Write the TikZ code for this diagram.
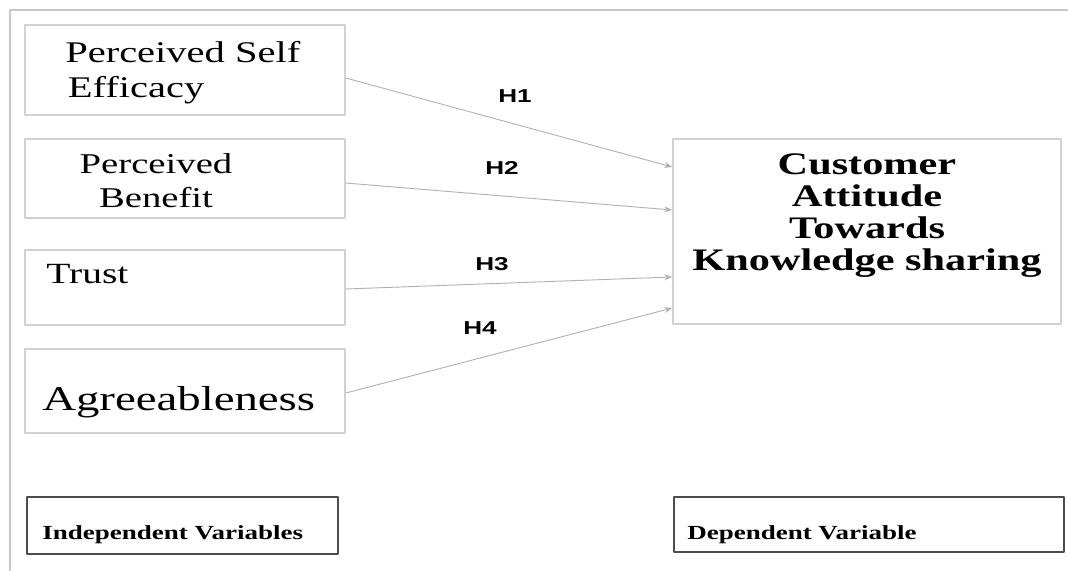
\documentclass[tikz,border=0pt]{standalone}
\usepackage{fontspec}
\setmainfont{Liberation Serif}[FakeStretch=1.35]
\newfontfamily\hfont{Liberation Sans}[FakeStretch=1.4]
\usetikzlibrary{calc,arrows.meta}
\begin{document}
\begin{tikzpicture}[x=0.75pt,y=-0.75pt,line join=round,
    varbox/.style={draw=black!18,line width=1.1pt,inner sep=0pt},
    keybox/.style={draw=black!70,line width=1pt,inner sep=0pt},
    vartxt/.style={inner sep=0pt,anchor=base west},
    hyp/.style={->,>={Stealth[length=6pt,width=4.5pt]},draw=black!30,line width=0.7pt},
    hlab/.style={font=\hfont\fontsize{14}{16}\selectfont\bfseries}]
    \useasboundingbox (0,0) rectangle (1068,571);
    % frame
    \draw[black!22,line width=1.2pt] (10,571)--(10,10)--(1068,10);
    % independent variables
    \node[varbox,minimum width=240pt,minimum height=67.5pt] (pse) at (185,70) {};
    \node[varbox,minimum width=240pt,minimum height=59.25pt] (pb) at (185,178.5) {};
    \node[varbox,minimum width=240pt,minimum height=56.25pt] (tr) at (185,287.5) {};
    \node[varbox,minimum width=240pt,minimum height=63pt] (agr) at (185,391) {};
    \node[vartxt,align=left,font=\fontsize{22.5}{26}\selectfont] (psetxt) at (65,97) {Perceived Self\\\hspace{2pt}Efficacy};
    \node[anchor=base,align=center,font=\fontsize{21.5}{25.5}\selectfont] (pbtxt) at (156,207) {Perceived\\Benefit};
    \node[vartxt,font=\fontsize{22}{26}\selectfont] (trtxt) at (46,283) {Trust};
    \node[vartxt,font=\fontsize{26}{30}\selectfont] (agrtxt) at (42,410) {Agreeableness};
    % dependent variable
    \node[varbox,minimum width=291pt,minimum height=138.75pt] (cat) at (867,231.5) {};
    \node[anchor=base,align=center,font=\fontsize{23.5}{23.8}\selectfont\bfseries] (cattxt) at (867,270) {Customer\\Attitude\\Towards\\Knowledge sharing};
    % hypotheses
    \draw[hyp] ($(pse.east)+(0,8)$) -- ($(cat.west)+(0,-64.5)$);
    \draw[hyp] ($(pb.east)+(0,4.5)$) -- ($(cat.west)+(0,-21.5)$);
    \draw[hyp] ($(tr.east)+(0,1.5)$) -- ($(cat.west)+(0,45.5)$);
    \draw[hyp] ($(agr.east)+(0,2)$) -- ($(cat.west)+(0,76.5)$);
    \node[hlab] (h1) at (515,96) {H1};
    \node[hlab] (h2) at (502,168) {H2};
    \node[hlab] (h3) at (492,264) {H3};
    \node[hlab] (h4) at (480,328) {H4};
    % legend boxes
    \node[keybox,minimum width=233.25pt,minimum height=42.75pt] (ind) at (182.5,525.5) {};
    \node[keybox,minimum width=292.5pt,minimum height=41.25pt] (dep) at (869,524.5) {};
    \node[vartxt,font=\fontsize{15}{18}\selectfont\bfseries] (indtxt) at (42,539) {Independent Variables};
    \node[vartxt,font=\fontsize{15}{18}\selectfont\bfseries] (deptxt) at (687,539) {Dependent Variable};
\end{tikzpicture}
\end{document}
